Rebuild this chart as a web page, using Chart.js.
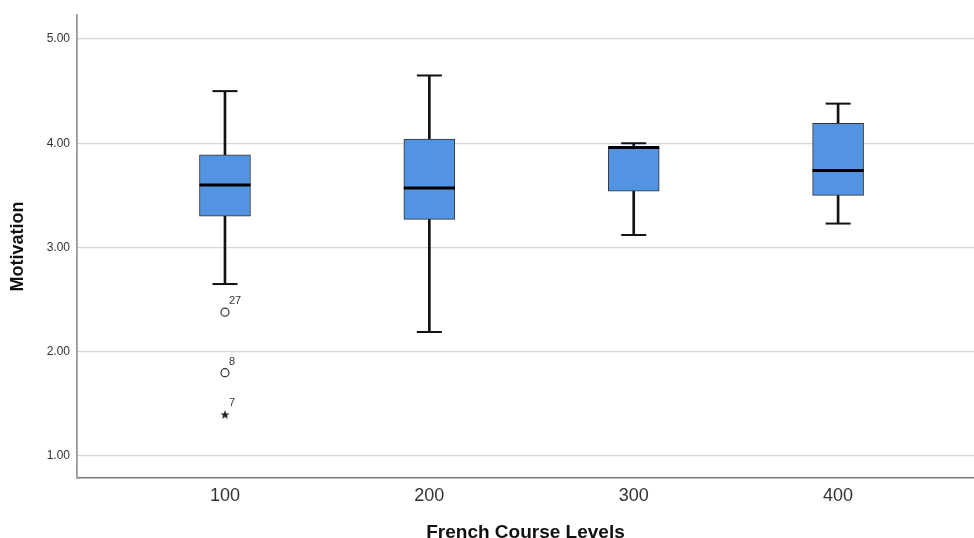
<!DOCTYPE html>
<html><head><meta charset="utf-8">
<script src="https://cdn.jsdelivr.net/npm/chart.js@4.4.1/dist/chart.umd.min.js"></script>
<style>html,body{margin:0;padding:0;background:#fff}#wrap{width:974px;height:538px}</style>
</head><body><div id="wrap"><canvas id="c" width="974" height="538"></canvas></div>
<script>
const categories = ['100', '200', '300', '400'];
const whiskerLow = [2.65, 2.19, 3.12, 3.23];
const q1 = [3.30, 3.27, 3.54, 3.50];
const median = [3.60, 3.57, 3.96, 3.74];
const q3 = [3.89, 4.04, 3.96, 4.19];
const whiskerHigh = [4.50, 4.65, 4.00, 4.38];
const outlierGroup = [1, 1];
const outlierValue = [2.38, 1.80];
const outlierLabel = ['27', '8'];
const extremeGroup = [1];
const extremeValue = [1.40];
const extremeLabel = ['7'];
const yTicks = [1, 2, 3, 4, 5];

const idx = categories.map((_, i) => i + 1);
const FONT = 'Arial, "Liberation Sans", sans-serif';
const starCanvas = (() => {
  const c = document.createElement('canvas'); c.width = 10; c.height = 10;
  const g = c.getContext('2d'); g.fillStyle = '#222'; g.beginPath();
  for (let k = 0; k < 10; k++) {
    const r = k % 2 === 0 ? 4.8 : 2.0;
    const a = -Math.PI / 2 + k * Math.PI / 5;
    const px = 5 + r * Math.cos(a), py = 5.5 + r * Math.sin(a);
    k === 0 ? g.moveTo(px, py) : g.lineTo(px, py);
  }
  g.closePath(); g.fill(); return c;
})();

const pointLabels = {
  id: 'pointLabels',
  afterDatasetsDraw(chart) {
    const ctx = chart.ctx;
    ctx.save();
    ctx.font = '11px ' + FONT;
    ctx.fillStyle = '#333';
    ctx.textBaseline = 'middle';
    chart.data.datasets.forEach((ds, i) => {
      if (!ds.pointLabelList) return;
      chart.getDatasetMeta(i).data.forEach((el, j) => {
        ctx.fillText(ds.pointLabelList[j], el.x + 4, el.y - 11);
      });
    });
    ctx.restore();
  }
};

new Chart(document.getElementById('c'), {
  type: 'bar',
  data: {
    datasets: [
      { type: 'bar', order: 5, grouped: false, barThickness: 2, backgroundColor: '#111', borderWidth: 0,
        data: idx.map((x, i) => ({ x, y: [whiskerLow[i], q1[i]] })) },
      { type: 'bar', order: 5, grouped: false, barThickness: 2, backgroundColor: '#111', borderWidth: 0,
        data: idx.map((x, i) => ({ x, y: [q3[i], whiskerHigh[i]] })) },
      { type: 'bar', order: 4, grouped: false, barThickness: 51, backgroundColor: '#5294E2',
        borderColor: '#333', borderWidth: 1, borderSkipped: false,
        data: idx.map((x, i) => ({ x, y: [q1[i], q3[i]] })) },
      { type: 'scatter', order: 3, pointStyle: 'line', pointRadius: 12.5, borderWidth: 2, borderColor: '#111',
        data: idx.map((x, i) => ({ x, y: whiskerLow[i] })).concat(idx.map((x, i) => ({ x, y: whiskerHigh[i] }))) },
      { type: 'scatter', order: 2, pointStyle: 'line', pointRadius: 25.5, borderWidth: 3, borderColor: '#000',
        data: idx.map((x, i) => ({ x, y: median[i] })) },
      { type: 'scatter', order: 1, pointStyle: 'circle', pointRadius: 4, borderWidth: 1.2, borderColor: '#333',
        backgroundColor: '#fff', pointLabelList: outlierLabel,
        data: outlierGroup.map((g, i) => ({ x: g, y: outlierValue[i] })) },
      { type: 'scatter', order: 1, pointStyle: starCanvas, pointRadius: 5, pointLabelList: extremeLabel,
        data: extremeGroup.map((g, i) => ({ x: g, y: extremeValue[i] })) }
    ]
  },
  options: {
    responsive: false,
    animation: false,
    layout: { autoPadding: false, padding: { top: 15, right: 0, bottom: 0, left: 0 } },
    plugins: { legend: { display: false }, tooltip: { enabled: false } },
    scales: {
      x: {
        type: 'linear', min: 0.276, max: 4.665, offset: false,
        afterBuildTicks: s => { s.ticks = idx.map(v => ({ value: v })); },
        afterFit: s => { s.height = 60; },
        grid: { display: false, drawTicks: false, offset: false },
        border: { display: true, color: '#7a7a7a', width: 1.5 },
        ticks: { padding: 7, color: '#333', font: { family: FONT, size: 18 },
          callback: v => categories[v - 1] },
        title: { display: true, text: 'French Course Levels', color: '#111',
          font: { family: FONT, size: 19, weight: 'bold', lineHeight: 1 },
          padding: { top: 0, bottom: -4.5 } }
      },
      y: {
        type: 'linear', min: 0.79, max: 5.23,
        afterBuildTicks: s => { s.ticks = yTicks.map(v => ({ value: v })); },
        afterFit: s => { s.width = 77; },
        grid: { color: '#d6d6d6', lineWidth: 1.3, drawTicks: false },
        border: { display: true, color: '#9a9a9a', width: 1.8 },
        ticks: { padding: 7, color: '#333', font: { family: FONT, size: 12 },
          callback: v => Number(v).toFixed(2) },
        title: { display: true, text: 'Motivation', color: '#111',
          font: { family: FONT, size: 18, weight: 'bold' },
          padding: { top: 7.7, bottom: 0 } }
      }
    }
  },
  plugins: [pointLabels]
});
</script></body></html>
